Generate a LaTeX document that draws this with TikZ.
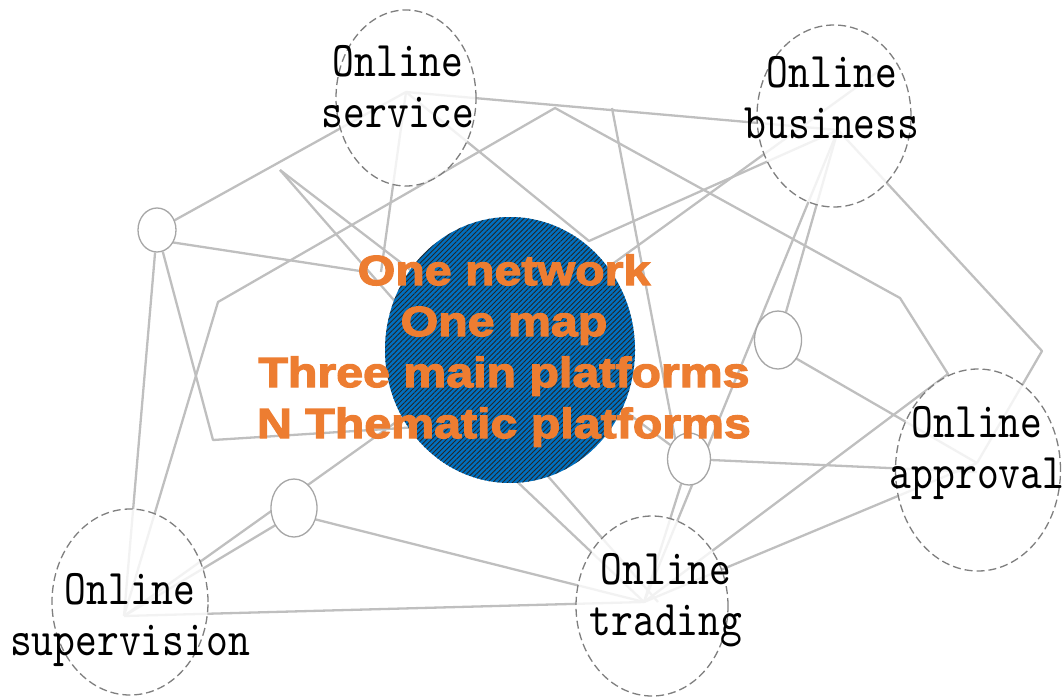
\documentclass[tikz,border=0pt]{standalone}
\usepackage{fontspec}
\usetikzlibrary{shapes.geometric,patterns.meta,calc,backgrounds}
\newfontfamily\labelfont{lmmono10-regular.otf}[FakeStretch=0.83]
\newfontfamily\heavyfont{Liberation Sans}[FakeStretch=1.15,FakeBold=3]
\definecolor{linkgray}{HTML}{BFBFBF}
\definecolor{ringgray}{HTML}{7F7F7F}
\definecolor{smallgray}{HTML}{A6A6A6}
\definecolor{hubblue}{HTML}{0070C0}
\definecolor{textorange}{HTML}{ED7D31}
\tikzset{
  link/.style={draw=linkgray, line width=2.3pt, line join=round},
  bigring/.style={ellipse, draw=ringgray, dash pattern=on 8pt off 4pt, line width=1.3pt, fill=white, fill opacity=0.8, inner sep=0pt},
  smallring/.style={ellipse, draw=smallgray, line width=1.3pt, fill=white, inner sep=0pt},
  labeltext/.style={anchor=base, inner sep=0pt, text=black, font=\labelfont\fontsize{50}{51}\selectfont},
  hubtext/.style={anchor=base, inner sep=0pt, text=textorange, font=\heavyfont\bfseries\fontsize{42}{51}\selectfont},
}
\begin{document}
\begin{tikzpicture}[x=1pt,y=-1pt]
\useasboundingbox (0,0) rectangle (1064,698);
% hubs and free vertices
\coordinate (servhub) at (406,92);
\coordinate (bushub) at (838,130);
\coordinate (suphub) at (124,616);
\coordinate (tradhub) at (644,602);
\coordinate (apprhub) at (977,463);
\coordinate (V1) at (280,170);
\coordinate (P1) at (555,108);
\coordinate (P2) at (218,302);
\coordinate (P3) at (900,298);
\coordinate (P4) at (948,374);
\coordinate (P5) at (589,241);
\coordinate (P6) at (1042,351);
\coordinate (P7) at (612,108);
\coordinate (P8) at (213,440);
\coordinate (Ha) at (360,271);
\coordinate (Hb) at (430,285);
\coordinate (Hd) at (381,272);
\coordinate (He) at (450,425);
\coordinate (Hf) at (420,405);
\coordinate (Hg) at (470,437);
\coordinate (Hh) at (590,385);
\coordinate (Hi) at (560,302);
\coordinate (Ci) at (887,65);
\coordinate (Ct) at (658,602);

% central platform
\node[ellipse, minimum width=250pt, minimum height=266pt, inner sep=0pt, fill=hubblue,
      postaction={pattern={Lines[angle=45,distance=3.5pt,line width=0.9pt]}, pattern color=black!85}] (hub) at (510,350) {};

% big dashed rings
\node[bigring, minimum width=140pt, minimum height=176pt] (serv) at (406,98) {};
\node[bigring, minimum width=154pt, minimum height=182pt] (bus) at (834,116) {};
\node[bigring, minimum width=156pt, minimum height=186pt] (sup) at (130,602) {};
\node[bigring, minimum width=152pt, minimum height=180pt] (trad) at (652,606) {};
\node[bigring, minimum width=165pt, minimum height=202pt] (appr) at (978,470) {};

% small rings
\node[smallring, minimum width=38pt, minimum height=44pt] (A) at (157,230) {};
\node[smallring, minimum width=46pt, minimum height=58pt] (B) at (294,508) {};
\node[smallring, minimum width=47pt, minimum height=58pt] (C) at (778,340) {};
\node[smallring, minimum width=43pt, minimum height=52pt] (D) at (689,459) {};

\begin{pgfonlayer}{background}
\draw[link] (A) -- (servhub);
\draw[link] ($(A)+(0,10)$) -- (Ha);
\draw[link] (A) -- (suphub);
\draw[link] (A) -- (P8) -- (He);
\draw[link] (servhub) -- (Hd);
\draw[link] (V1) -- (Hb);
\draw[link] (V1) -- (Ct);
\draw[link] (suphub) -- (P2) -- (P1) -- (P3) -- (P4) -- (tradhub);
\draw[link] (servhub) -- (P5) -- (bushub);
\draw[link] (servhub) -- (bushub);
\draw[link] (bushub) -- (C);
\draw[link] (bushub) -- (tradhub);
\draw[link] (bushub) -- (P6) -- (apprhub);
\draw[link] (Hi) -- (Ci);
\draw[link] (P7) -- ($(D)+(-10,0)$);
\draw[link] (Hh) -- (D);
\draw[link] (D) -- ($(apprhub)+(0,9)$);
\draw[link] ($(C)+(0,8)$) -- (apprhub);
\draw[link] (tradhub) -- (apprhub);
\draw[link] (D) -- (tradhub);
\draw[link] ($(B)+(0,6)$) -- (suphub);
\draw[link] (suphub) -- (Hf);
\draw[link] ($(B)+(0,6)$) -- (tradhub);
\draw[link] (suphub) -- (tradhub);
\draw[link] (Hg) -- (tradhub);
\end{pgfonlayer}

% labels
\node[labeltext] (servtext) at (398,77) {\begin{tabular}[t]{@{}c@{}}Online\\service\end{tabular}};
\node[labeltext] (bustext) at (832,88) {\begin{tabular}[t]{@{}c@{}}Online\\business\end{tabular}};
\node[labeltext] (suptext) at (130,604) {\begin{tabular}[t]{@{}c@{}}Online\\supervision\end{tabular}};
\node[labeltext] (tradtext) at (666,584) {\begin{tabular}[t]{@{}c@{}}Online\\trading\end{tabular}};
\node[labeltext] (apprtext) at (977,437) {\begin{tabular}[t]{@{}c@{}}Online\\approval\end{tabular}};

\node[hubtext] (hubtitle) at (504,285) {\begin{tabular}[t]{@{}c@{}}One network\\One map\\Three main platforms\\N Thematic platforms\end{tabular}};
\end{tikzpicture}
\end{document}
